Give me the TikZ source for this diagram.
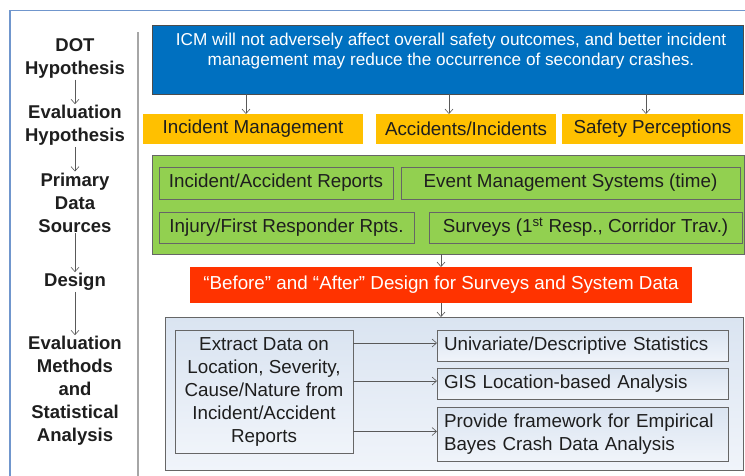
\documentclass[tikz,border=0pt]{standalone}
\usepackage{fontspec}
\setmainfont{Liberation Sans}
\usetikzlibrary{arrows.meta}
\definecolor{frameblue}{RGB}{112,150,205}
\definecolor{icmblue}{RGB}{0,112,192}
\definecolor{gold}{RGB}{255,192,0}
\definecolor{leaf}{RGB}{146,208,80}
\definecolor{redorange}{RGB}{255,51,0}
\definecolor{paleA}{RGB}{218,228,241}
\definecolor{paleB}{RGB}{240,244,250}
\definecolor{arrowgray}{RGB}{89,89,89}
\definecolor{ink}{RGB}{30,30,30}
\begin{document}
\begin{tikzpicture}[x=1pt,y=-1pt,
  lab/.style={font=\bfseries\fontsize{18.5}{23}\selectfont, align=center, inner sep=1pt, text=ink},
  flow/.style={draw=arrowgray, line width=0.6pt, -{Straight Barb[length=4.5pt,width=8pt]}},
  boxbase/.style={anchor=north west, inner sep=0pt, outer sep=0pt},
  orng/.style={boxbase, fill=gold, text=ink, font=\fontsize{18.8}{21}\selectfont},
  grn/.style={boxbase, draw=black!60, line width=0.8pt, fill=leaf, text=ink, font=\fontsize{18.8}{21}\selectfont},
  pale/.style={boxbase, draw=black!60, line width=0.8pt, top color=paleA, bottom color=paleB, text=ink, font=\fontsize{18.8}{23}\selectfont},
]
\useasboundingbox (0,0) rectangle (745,475);
\clip (0,0) rectangle (745,475);
\fill[white] (0,0) rectangle (745,475);
\draw[frameblue, line width=1.2pt] (10,480) -- (10,10.5) -- (750,10.5);
\draw[black!35, line width=1.2pt] (138,32) -- (138,480);

% left column
\node[lab] (dot) at (75,58.5) {DOT\\Hypothesis};
\node[lab] (evh) at (75,125.5) {Evaluation\\Hypothesis};
\node[lab] (pds) at (75,202.5) {Primary\\Data\\Sources};
\node[lab] (des) at (75,282) {Design};
\node[lab] (evm) at (75,391) {Evaluation\\Methods\\and\\Statistical\\Analysis};
\draw[flow] (dot.south) -- (evh.north);
\draw[flow] (evh.south) -- (pds.north);
\draw[flow] (pds.south) -- (des.north);
\draw[flow] (des.south) -- (evm.north);

% hypothesis
\node[boxbase, draw=black!70, line width=0.8pt, fill=icmblue, minimum width=591, minimum height=69] (icm) at (152,25) {};
\node[text=white, font=\fontsize{17.2}{20.5}\selectfont, align=center] (icmtext) at (451,51)
  {ICM will not adversely affect overall safety outcomes, and better incident\\management may reduce the occurrence of secondary crashes.};

% evaluation hypotheses
\node[orng, minimum width=220, minimum height=30] (im) at (143,114) {Incident Management};
\node[orng, minimum width=180, minimum height=30] (ai) at (376,114) {Accidents/Incidents};
\node[orng, minimum width=181, minimum height=30] (sp) at (562,114) {Safety Perceptions};
\draw[flow] ([xshift=-7pt]im.north |- icm.south) -- ([xshift=-7pt]im.north);
\draw[flow] ([xshift=-17pt]ai.north |- icm.south) -- ([xshift=-17pt]ai.north);
\draw[flow] ([xshift=-6.5pt]sp.north |- icm.south) -- ([xshift=-6.5pt]sp.north);

% data sources
\node[grn, minimum width=592, minimum height=99] (src) at (152,155) {};
\node[grn, minimum width=234, minimum height=32] (rep) at (159,167) {Incident/Accident Reports};
\node[grn, minimum width=339, minimum height=32] (ems) at (401,167) {Event Management Systems (time)};
\node[grn, minimum width=255, minimum height=31] (inj) at (159,212) {Injury/First Responder Rpts.};
\node[grn, minimum width=313, minimum height=31] (sur) at (429,212) {Surveys (1\textsuperscript{st} Resp., Corridor Trav.)};

% design
\node[boxbase, fill=redorange, text=white, font=\fontsize{18.8}{21}\selectfont, minimum width=502, minimum height=36] (dsg) at (190,267) {\textquotedblleft Before\textquotedblright{} and \textquotedblleft After\textquotedblright{} Design for Surveys and System Data};
\draw[flow] (src.south -| dsg.north) -- (dsg.north);

% methods
\node[pale, minimum width=578, minimum height=153] (meth) at (165,317) {};
\draw[flow] (dsg.south) -- (dsg.south |- meth.north);
\node[pale, minimum width=178, minimum height=123, align=center] (ext) at (175,330) {Extract Data on\\Location, Severity,\\Cause/Nature from\\Incident/Accident\\Reports};
\node[pale, minimum width=291, minimum height=31, align=left, text width=277, inner xsep=7pt] (uni) at (437,330) {Univariate/Descriptive Statistics};
\node[pale, minimum width=291, minimum height=31, align=left, text width=277, inner xsep=7pt] (gis) at (437,368) {GIS Location-based Analysis};
\node[pale, minimum width=291, minimum height=54, align=left, text width=277, inner xsep=7pt] (pro) at (437,407) {Provide framework for Empirical\\Bayes Crash Data Analysis};
\draw[flow] ([yshift=2.5pt]ext.east |- uni.west) -- ([yshift=2.5pt]uni.west);
\draw[flow] ([yshift=2.5pt]ext.east |- gis.west) -- ([yshift=2.5pt]gis.west);
\draw[flow] ([yshift=2.5pt]ext.east |- pro.west) -- ([yshift=2.5pt]pro.west);
\end{tikzpicture}
\end{document}
